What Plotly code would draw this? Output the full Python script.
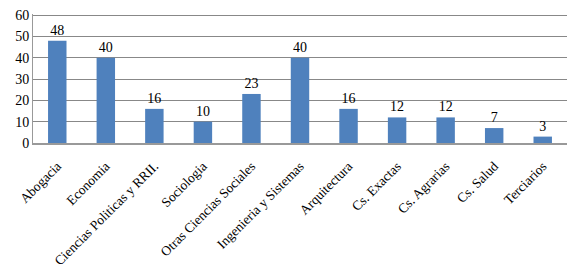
import plotly.graph_objects as go

categories = ["Abogacia", "Economia", "Ciencias Politicas y RRII.", "Sociologia",
              "Otras Ciencias Sociales", "Ingenieria y Sistemas", "Arquitectura",
              "Cs. Exactas", "Cs. Agrarias", "Cs. Salud", "Terciarios"]
values = [48, 40, 16, 10, 23, 40, 16, 12, 12, 7, 3]
y_ticks = [0, 10, 20, 30, 40, 50, 60]

font = "Liberation Serif, Times New Roman, serif"

fig = go.Figure(go.Bar(
    x=categories, y=values,
    marker=dict(color="#4F81BD", line=dict(width=0)),
    text=[str(v) for v in values], textposition="outside",
    textfont=dict(family=font, size=14, color="black"),
    cliponaxis=False,
))
fig.update_layout(
    width=572, height=256,
    margin=dict(l=25, r=13, t=6, b=121),
    plot_bgcolor="white", paper_bgcolor="white",
    bargap=0.62, showlegend=False,
    font=dict(family=font, size=13, color="black"),
)
fig.update_xaxes(tickangle=-45, showline=True, linecolor="#999999", linewidth=2,
                 tickfont=dict(family=font, size=13.5), ticks="", automargin=False,
                 ticklabelstandoff=8, ticklabeloverflow="allow")
fig.update_yaxes(range=[0, 60.5], tickvals=y_ticks, showgrid=True, gridcolor="#888888",
                 gridwidth=1, showline=True, linecolor="#999999", linewidth=1,
                 tickfont=dict(family=font, size=14), ticks="", zeroline=False,
                 automargin=False, ticklabeloverflow="allow")
fig.write_html("out.html")
